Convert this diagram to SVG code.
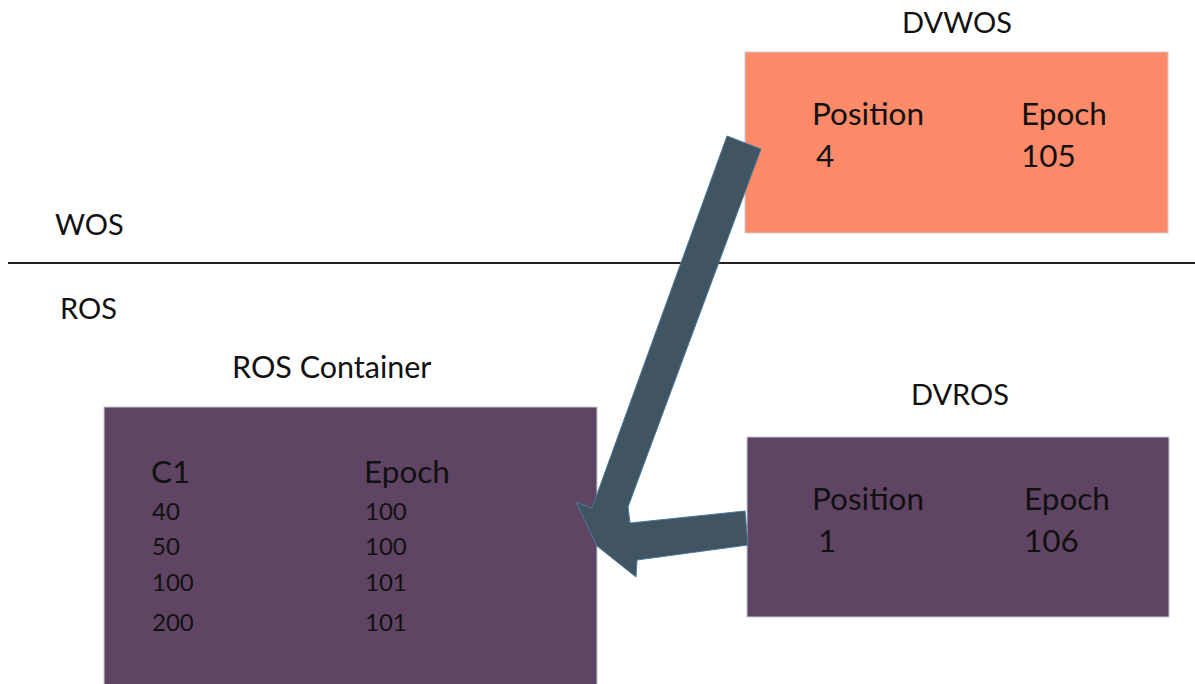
<svg xmlns="http://www.w3.org/2000/svg" width="1195" height="684" viewBox="0 0 1195 684">
<style>
text{font-family:Lato,"Open Sans","Liberation Sans",sans-serif;fill:#111}
.lbl{font-size:29px}
.hd{font-size:31.5px}
.num{font-size:24px}
.box{stroke:#c8ccd4;stroke-width:1}
.arrow{fill:#405462;stroke:#4a7aa0;stroke-width:1;stroke-linejoin:miter}
</style>
<rect width="1195" height="684" fill="#ffffff"/>
<g id="divider">
<line x1="8" y1="263" x2="1195" y2="263" stroke="#222" stroke-width="2"/>
<text class="lbl" x="55" y="235">WOS</text>
<text class="lbl" x="60" y="319">ROS</text>
</g>
<g id="dvwos">
<text class="lbl" x="957" y="33" text-anchor="middle">DVWOS</text>
<rect class="box" x="745" y="52" width="423" height="181" fill="#ff8a69"/>
<text class="hd" x="812" y="125">Position</text>
<text class="hd" x="1021" y="125">Epoch</text>
<text class="hd" x="816" y="167">4</text>
<text class="hd" x="1021" y="167">105</text>
</g>
<g id="ros-container">
<text class="lbl" x="232" y="378" style="font-size:30.5px">ROS Container</text>
<rect class="box" x="104" y="407" width="493" height="290" fill="#5f4563"/>
<text class="hd" x="151" y="483">C1</text>
<text class="hd" x="364" y="483">Epoch</text>
<text class="num" x="152" y="520">40</text>
<text class="num" x="365" y="520">100</text>
<text class="num" x="152" y="555">50</text>
<text class="num" x="365" y="555">100</text>
<text class="num" x="152" y="591">100</text>
<text class="num" x="365" y="591">101</text>
<text class="num" x="152" y="631">200</text>
<text class="num" x="365" y="631">101</text>
</g>
<g id="dvros">
<text class="lbl" x="960" y="405" text-anchor="middle">DVROS</text>
<rect class="box" x="747" y="437" width="422" height="180" fill="#5f4563"/>
<text class="hd" x="812" y="510">Position</text>
<text class="hd" x="1024" y="510">Epoch</text>
<text class="hd" x="818" y="552">1</text>
<text class="hd" x="1024" y="552">106</text>
</g>
<g id="connectors">
<polygon class="arrow" points="727,136 761,149 628,507 630,523 745,511 748,545 637,560 636,577 597,546 576,502 592,508"/>
</g>
</svg>
